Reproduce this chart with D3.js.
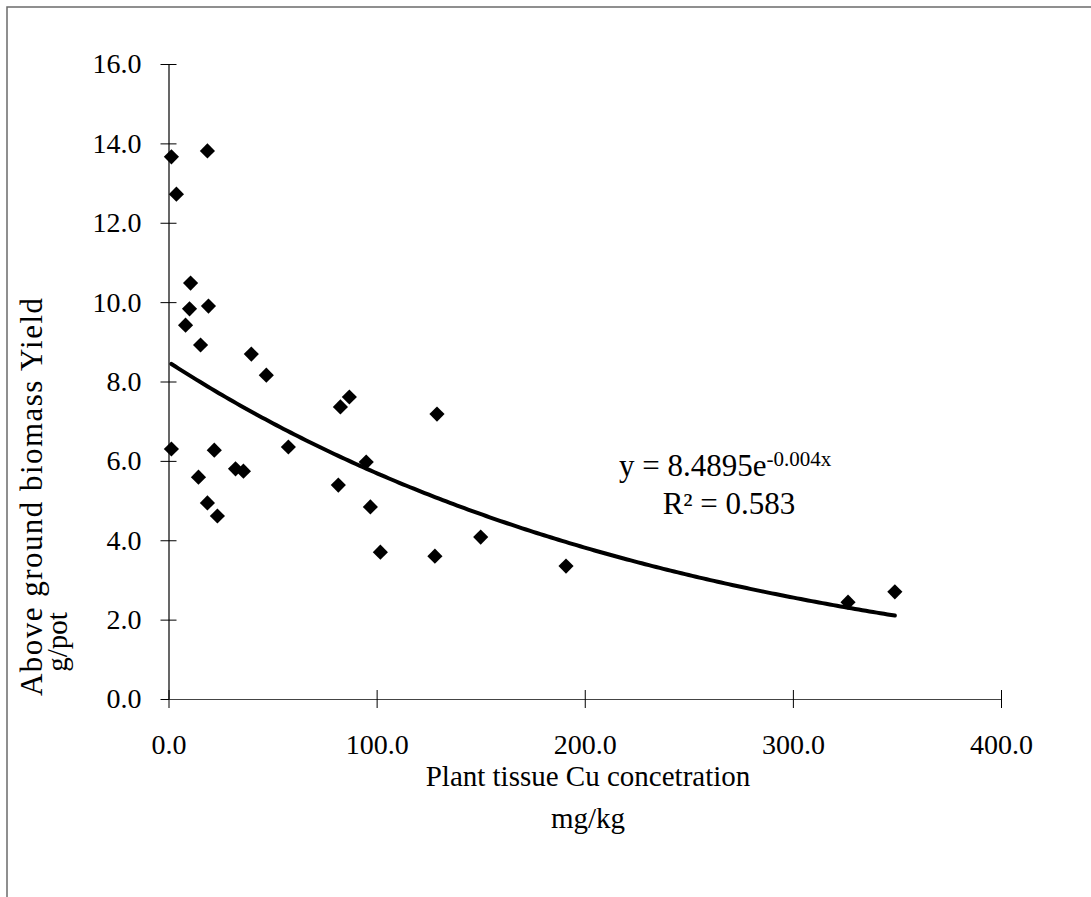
<!DOCTYPE html>
<html>
<head>
<meta charset="utf-8">
<script src="https://cdn.jsdelivr.net/npm/d3@7"></script>
<style>
  html, body { margin: 0; padding: 0; background: #fff; }
  svg { display: block; }
  text { font-family: "Liberation Serif", "Times New Roman", serif; fill: #000; }
</style>
</head>
<body>
<svg id="chart" width="1091" height="897"></svg>
<script>
// ---- data ----
const cuConc = [1.4, 3.8, 18.7, 10.6, 10.1, 19.2, 8.2, 15.4, 39.8, 47.0, 82.6, 86.9, 129.0,
                1.4, 22.0, 57.6, 95.0, 14.4, 32.2, 36.0, 81.6, 18.7, 23.5, 97.0, 101.8,
                128.0, 150.0, 191.0, 326.5, 349.0];
const yieldG = [13.66, 12.72, 13.81, 10.48, 9.83, 9.90, 9.42, 8.92, 8.69, 8.16, 7.36, 7.61, 7.18,
                6.30, 6.27, 6.35, 5.97, 5.59, 5.80, 5.74, 5.39, 4.94, 4.61, 4.84, 3.70,
                3.60, 4.08, 3.35, 2.44, 2.70];
const xTicks = [0, 100, 200, 300, 400];
const yTicks = [0, 2, 4, 6, 8, 10, 12, 14, 16];
const fitA = 8.4895, fitB = -0.004;
const eqMain = "y = 8.4895e";
const eqSup = "-0.004x";
const r2Text = "R² = 0.583";
const xTitle = ["Plant tissue Cu concetration", "mg/kg"];
const yTitle = ["Above ground biomass Yield", "g/pot"];

const svg = d3.select("#chart");

// outer border
svg.append("rect").attr("x", 7).attr("y", 7).attr("width", 1200).attr("height", 1000)
  .attr("fill", "none").attr("stroke", "#6b6b6b").attr("stroke-width", 1.5);

const x = d3.scaleLinear().domain([0, 400]).range([168.5, 1001]);
const y = d3.scaleLinear().domain([0, 16]).range([699, 64]);

// y axis
const yAxis = svg.append("g").attr("transform", `translate(${x(0)},0)`)
  .call(d3.axisLeft(y).tickValues(yTicks).tickFormat(d3.format(".1f")).tickSize(0).tickPadding(27));
yAxis.select(".domain").attr("stroke", "#000").attr("stroke-width", 1.2);
yAxis.selectAll(".tick").append("line").attr("x1", -8).attr("x2", 8).attr("stroke", "#000");
yAxis.selectAll("text").style("font-size", "28px").attr("fill", "#000");

// x axis
const xAxis = svg.append("g").attr("transform", `translate(0,${y(0)})`)
  .call(d3.axisBottom(x).tickValues(xTicks).tickFormat(d3.format(".1f")).tickSize(0).tickPadding(35));
xAxis.select(".domain").attr("stroke", "#444").attr("stroke-width", 1.2);
xAxis.selectAll(".tick").append("line").attr("y1", -9).attr("y2", 9).attr("stroke", "#000");
xAxis.selectAll("text").style("font-size", "28px").attr("fill", "#000");

// trendline
const xmin = d3.min(cuConc), xmax = d3.max(cuConc);
const fitXs = d3.range(0, 201).map(i => xmin + (xmax - xmin) * i / 200);
svg.append("path")
  .datum(fitXs)
  .attr("fill", "none").attr("stroke", "#000").attr("stroke-width", 4)
  .attr("stroke-linecap", "round")
  .attr("d", d3.line().x(d => x(d)).y(d => y(fitA * Math.exp(fitB * d))));

// points
const pts = cuConc.map((c, i) => ({ c, v: yieldG[i] }));
svg.append("g").selectAll("path").data(pts).join("path")
  .attr("d", d3.symbol().type(d3.symbolSquare).size(115))
  .attr("transform", d => `translate(${x(d.c)},${y(d.v)}) rotate(45)`)
  .attr("fill", "#000");

// equation
const eq = svg.append("text").attr("x", 619).attr("y", 476).style("font-size", "31px");
eq.append("tspan").text(eqMain);
eq.append("tspan").attr("dy", -10).style("font-size", "21px").text(eqSup);
svg.append("text").attr("x", 729).attr("y", 514).attr("text-anchor", "middle")
  .style("font-size", "31px").text(r2Text);

// x title
svg.append("text").attr("x", 588).attr("y", 786).attr("text-anchor", "middle")
  .style("font-size", "29px").text(xTitle[0]);
svg.append("text").attr("x", 588).attr("y", 828).attr("text-anchor", "middle")
  .style("font-size", "29px").text(xTitle[1]);

// y title
svg.append("text").attr("transform", "translate(42,497) rotate(-90)").attr("text-anchor", "middle")
  .attr("textLength", 398).attr("lengthAdjust", "spacing")
  .style("font-size", "31px").text(yTitle[0]);
svg.append("text").attr("transform", "translate(67,642) rotate(-90)").attr("text-anchor", "middle")
  .style("font-size", "29px").text(yTitle[1]);
</script>
</body>
</html>
